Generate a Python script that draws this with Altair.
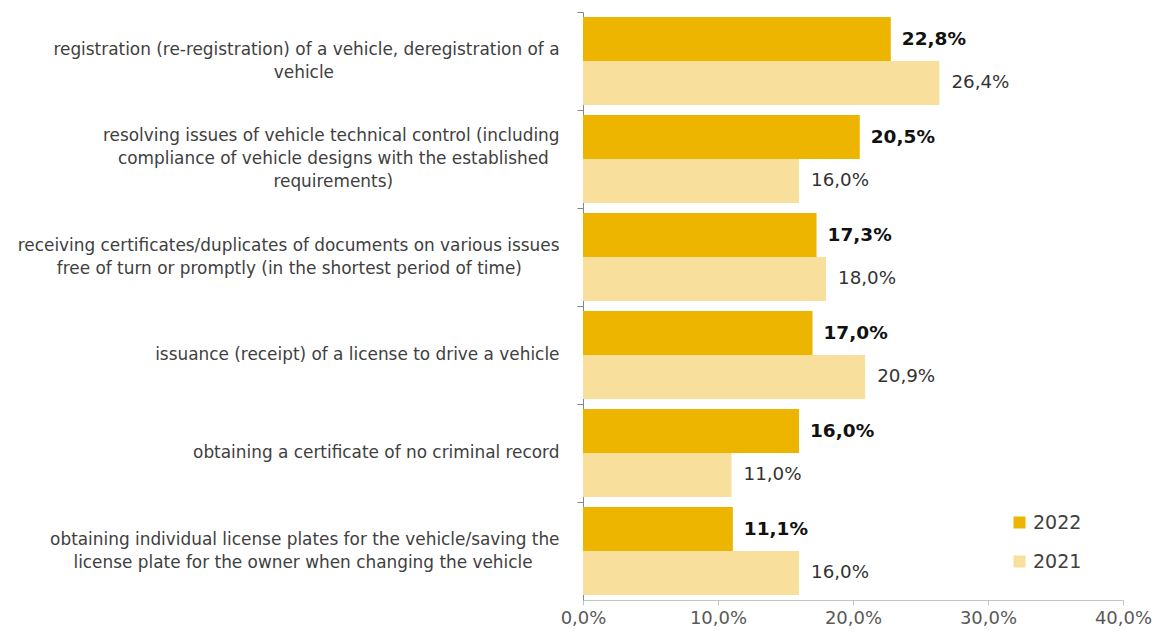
import altair as alt
import pandas as pd

# ---- data ----
category_lines = [
    ["registration (re-registration) of a vehicle, deregistration of a", "vehicle"],
    ["resolving issues of vehicle technical control (including",
     "compliance of vehicle designs with the established", "requirements)"],
    ["receiving certificates/duplicates of documents on various issues",
     "free of turn or promptly (in the shortest period of time)"],
    ["issuance (receipt) of a license to drive a vehicle"],
    ["obtaining a certificate of no criminal record"],
    ["obtaining individual license plates for the vehicle/saving the",
     "license plate for the owner when changing the vehicle"],
]
values_2022 = [22.8, 20.5, 17.3, 17.0, 16.0, 11.1]
values_2021 = [26.4, 16.0, 18.0, 20.9, 11.0, 16.0]
years = ["2022", "2021"]
x_ticks = [0, 10, 20, 30, 40]

# ---- centre the lines of each label inside a right-aligned block ----
W = {" ": 651, "a": 1255, "b": 1300, "c": 1126, "d": 1300, "e": 1260, "f": 721,
     "g": 1300, "h": 1298, "i": 569, "j": 569, "k": 1186, "l": 569, "m": 1995,
     "n": 1298, "o": 1253, "p": 1300, "q": 1300, "r": 842, "s": 1067, "t": 803,
     "u": 1298, "v": 1212, "w": 1675, "x": 1212, "y": 1212, "z": 1075,
     "(": 799, ")": 799, "-": 739, ",": 651, ".": 651, "/": 690}
NBSP = "\u00a0"
ZWSP = "\u200b"


def tw(s):
    return sum(W.get(c, 1200) for c in s)


def block(lines):
    wmax = max(tw(l) for l in lines)
    out = []
    for l in lines:
        n = int(round((wmax - tw(l)) / 2 / W[" "]))
        out.append(l + (NBSP * n + ZWSP if n else ""))
    return "|".join(out)


categories = [block(l) for l in category_lines]

rows = []
for c, v22, v21 in zip(categories, values_2022, values_2021):
    rows.append({"cat": c, "year": "2022", "value": v22})
    rows.append({"cat": c, "year": "2021", "value": v21})
df = pd.DataFrame(rows)

FONT = "DejaVu Sans"
nlines = "length(split(datum.value, '|'))"

x_enc = alt.X(
    "value:Q",
    scale=alt.Scale(domain=[0, 40], nice=False),
    axis=alt.Axis(
        title=None, values=x_ticks, grid=False, labelFlush=False,
        labelExpr="replace(format(datum.value, '.1f'), '.', ',') + '%'",
        tickSize=5, tickColor="#bfc6c6", domainColor="#bfc6c6",
        labelColor="#595959", labelFont=FONT, labelFontSize=18, labelPadding=4,
    ),
)
y_enc = alt.Y(
    "cat:N",
    sort=categories,
    scale=alt.Scale(domain=categories, paddingInner=0, paddingOuter=0),
    axis=alt.Axis(
        title=None, bandPosition=0, labelOffset=-11.5,
        tickSize=6, tickColor="#868686", domainColor="#868686",
        labelAlign="right",
        labelBaseline={
            "condition": [
                {"test": f"{nlines} == 1", "value": "line-top"},
                {"test": f"{nlines} == 3", "value": "line-bottom"},
            ],
            "value": "middle",
        },
        labelPadding=18,
        labelLimit=0, labelFont=FONT, labelFontSize=16.9, labelColor="#404040",
        labelLineHeight=23, labelExpr="split(datum.label, '|')",
    ),
)
yoff_enc = alt.YOffset(
    "year:N", sort=years,
    scale=alt.Scale(domain=years, paddingInner=0, paddingOuter=0.114),
)

bars = alt.Chart(df).mark_bar().encode(
    x=x_enc, y=y_enc, yOffset=yoff_enc,
    color=alt.Color(
        "year:N",
        scale=alt.Scale(domain=years, range=["#EDB500", "#F8DF9C"]),
        legend=alt.Legend(
            title=None, orient="none", legendX=427, legendY=501,
            symbolType="square", symbolSize=144, symbolStrokeWidth=0,
            labelFont=FONT, labelFontSize=19, labelColor="#404040",
            rowPadding=19, labelOffset=4,
        ),
    ),
)

label_expr = "replace(format(datum.value, '.1f'), '.', ',') + '%'"
text22 = alt.Chart(df).transform_filter("datum.year == '2022'").transform_calculate(
    lbl=label_expr
).mark_text(
    align="left", baseline="middle", dx=11, font=FONT, fontSize=18.5,
    fontWeight="bold", color="#111111",
).encode(x=x_enc, y=y_enc, yOffset=yoff_enc, text="lbl:N")

text21 = alt.Chart(df).transform_filter("datum.year == '2021'").transform_calculate(
    lbl=label_expr
).mark_text(
    align="left", baseline="middle", dx=12, font=FONT, fontSize=18.3,
    color="#333333",
).encode(x=x_enc, y=y_enc, yOffset=yoff_enc, text="lbl:N")

chart = alt.layer(bars, text22, text21).properties(
    width=540, height=588,
    padding={"left": 575, "top": 4, "right": 31, "bottom": 29},
    autosize=alt.AutoSizeParams(type="none"),
    background="white",
).configure_view(stroke=None)

chart.save("out.html", embed_options={"renderer": "svg", "actions": False})
